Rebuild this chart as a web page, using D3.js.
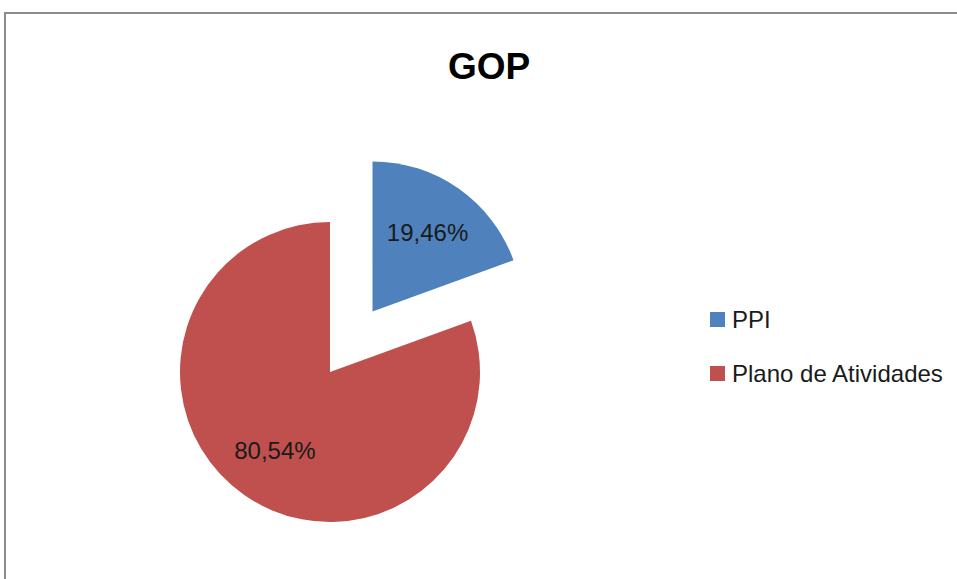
<!DOCTYPE html>
<html><head><meta charset="utf-8">
<script src="https://cdn.jsdelivr.net/npm/d3@7"></script>
<style>html,body{margin:0;padding:0;background:#fff;}svg{display:block;}</style>
</head><body>
<svg id="chart" width="957" height="579"></svg>
<script>
const title = "GOP";
const categories = ["PPI", "Plano de Atividades"];
const values = [19.46, 80.54];
const labels = ["19,46%", "80,54%"];
const colors = ["#4F81BD", "#C0504D"];
const exploded = [true, false];

const svg = d3.select("#chart");
const font = "'Liberation Sans', Arial, sans-serif";

svg.append("rect").attr("x", 5).attr("y", 13).attr("width", 1200).attr("height", 1000)
  .attr("fill", "#fff").attr("stroke", "#8c8c8c").attr("stroke-width", 2);

svg.append("text").attr("x", 489).attr("y", 79).attr("text-anchor", "middle")
  .attr("font-family", font).attr("font-weight", "bold").attr("font-size", 37)
  .attr("fill", "#000").text(title);

const cx = 330, cy = 372, r = 150, explodeDist = 74;
const data = categories.map((c, i) => ({ cat: c, value: values[i], label: labels[i], color: colors[i], ex: exploded[i] }));
const pie = d3.pie().sort(null).value(d => d.value);
const arcs = pie(data);
const arc = d3.arc().innerRadius(0).outerRadius(r);
const labelArc = d3.arc().innerRadius(r * 0.64).outerRadius(r * 0.64);

const g = svg.append("g").attr("transform", `translate(${cx},${cy})`);
const slice = g.selectAll("g.slice").data(arcs).join("g").attr("class", "slice")
  .attr("transform", d => {
    if (!d.data.ex) return null;
    const mid = (d.startAngle + d.endAngle) / 2;
    return `translate(${explodeDist * Math.sin(mid)},${-explodeDist * Math.cos(mid)})`;
  });
slice.append("path").attr("d", arc).attr("fill", d => d.data.color);
slice.append("text")
  .attr("transform", d => `translate(${labelArc.centroid(d)})`)
  .attr("text-anchor", "middle").attr("dy", "0.35em")
  .attr("font-family", font).attr("font-size", 24).attr("fill", "#1a1a1a")
  .text(d => d.data.label);

const legend = svg.append("g").attr("transform", "translate(710,312)");
const item = legend.selectAll("g").data(data).join("g")
  .attr("transform", (d, i) => `translate(0,${i * 54})`);
item.append("rect").attr("width", 15).attr("height", 15).attr("fill", d => d.color);
item.append("text").attr("x", 22).attr("y", 7.5).attr("dy", "0.36em")
  .attr("font-family", font).attr("font-size", 24).attr("fill", "#1a1a1a")
  .text(d => d.cat);
</script>
</body></html>
